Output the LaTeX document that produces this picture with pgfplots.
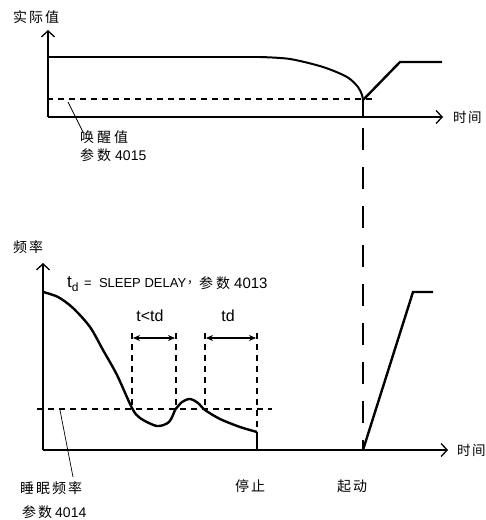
\documentclass[border=0pt]{standalone}
\usepackage{pgfplots}
\pgfplotsset{compat=1.18}
\usepackage{fontspec}
\setmainfont{Liberation Sans}
\newfontfamily\cjk[LetterSpace=14]{Noto Sans CJK SC}
\newfontfamily\cjkn{Noto Sans CJK SC}
\usetikzlibrary{arrows.meta}
\pgfplotsset{
  diag/.style={
    x=1pt, y=1pt, anchor=south west, clip=false,
    axis lines=left, xtick=\empty, ytick=\empty,
    axis line style={line width=1.6pt},
    x axis line style={-{Straight Barb[length=6pt,width=13pt,line width=1.3pt]}},
    y axis line style={-{Straight Barb[length=6pt,width=13pt,line width=1.3pt]}},
  },
  thickc/.style={black, line width=2.4pt, no marks},
  dsh/.style={black, line width=1.4pt, no marks, dash pattern=on 6pt off 5pt},
  thin/.style={black, line width=0.7pt, no marks},
}
\newcommand\cs{\fontsize{14}{14}\selectfont\cjk}
\newcommand\csn{\fontsize{13.5}{13.5}\selectfont\cjkn}
\newcommand\ls{\fontsize{14}{14}\selectfont\rmfamily}
\begin{document}
\begin{tikzpicture}[x=1pt,y=1pt]
\useasboundingbox (0,0) rectangle (486,520);
% ---------------- top axis: actual value ----------------
\begin{axis}[diag, at={(48pt,403pt)}, xmin=48, xmax=443, ymin=403, ymax=490]
\addplot[thickc, line width=2.6pt] coordinates {(48,463) (261,463)};
\addplot[thickc, line width=2pt, smooth] coordinates {(260,463) (290,461) (323,453) (347,443) (358,433) (362,425) (363,420)};
\addplot[thickc, sharp plot] coordinates {(363,420) (400,458) (442,458)};
\addplot[dsh] coordinates {(47,421) (373,421)};
\addplot[thin] coordinates {(68,418) (83,388)};
\node[anchor=west, inner sep=0pt] at (axis cs:13,503) {\cs 实际值};
\node[anchor=west, inner sep=0pt] at (axis cs:453,403) {\csn 时\hspace{1.5pt}间};
\node[anchor=west, inner sep=0pt] at (axis cs:80,383) {\cs 唤\hspace{3pt}醒\hspace{3pt}值};
\node[anchor=west, inner sep=0pt] at (axis cs:80,365) {\cs 参\hspace{3pt}数\hspace{4pt}\ls 4015};
\end{axis}
% ---------------- bottom axis: frequency ----------------
\begin{axis}[diag, at={(43pt,70pt)}, xmin=43, xmax=448, ymin=70, ymax=257]
\addplot[thickc, smooth] coordinates {(43,228) (58,223) (73,212) (90,193) (103,170) (117,145) (132,112) (140,102) (157,94) (169,98) (175,110)};
\addplot[thickc, smooth] coordinates {(175,110) (182,118) (190,121) (198,117) (205,110) (220,101) (240,93) (257,88)};
\addplot[thickc, line width=2.6pt, sharp plot] coordinates {(257,88) (257,70) (363,70)};
\addplot[thickc, sharp plot] coordinates {(363,70) (413,228) (433,228)};
% sleep level
\addplot[dsh] coordinates {(37,111) (272,111)};
% delay markers
\addplot[dsh] coordinates {(132,187) (132,111)};
\addplot[dsh] coordinates {(176,187) (176,111)};
\addplot[dsh] coordinates {(205,187) (205,111)};
\addplot[dsh] coordinates {(257,187) (257,88)};
\addplot[black, line width=1.6pt, no marks, {Stealth[length=7pt,width=6pt]}-{Stealth[length=7pt,width=6pt]}] coordinates {(133,182) (175,182)};
\addplot[black, line width=1.6pt, no marks, {Stealth[length=7pt,width=6pt]}-{Stealth[length=7pt,width=6pt]}] coordinates {(206,182) (256,182)};
% long dashed link
\addplot[black, line width=1.8pt, no marks] coordinates {(363,420) (363,403)};
\addplot[black, line width=1.8pt, no marks, dash pattern=on 22pt off 17pt] coordinates {(363,392) (363,70)};
% leader
\addplot[thin] coordinates {(60,110) (73,43)};
% texts
\node[anchor=west, inner sep=0pt] at (axis cs:13,273) {\cs 频率};
\node[anchor=west, inner sep=0pt] at (axis cs:457,70) {\csn 时\hspace{1.5pt}间};
\node[anchor=west, inner sep=0pt] at (axis cs:67,236) {\fontsize{17}{17}\selectfont t\raisebox{-0.4ex}{\fontsize{12}{12}\selectfont d}};
\node[anchor=west, inner sep=0pt] at (axis cs:84,237) {\fontsize{13}{13}\selectfont = \ SLEEP DELAY};
\node[anchor=west, inner sep=0pt] at (axis cs:187,237) {\fontsize{12}{12}\selectfont\cjkn ，};
\node[anchor=west, inner sep=0pt] at (axis cs:199,237) {\cs 参\hspace{3pt}数};
\node[anchor=west, inner sep=0pt] at (axis cs:234,237) {\fontsize{15}{15}\selectfont 4013};
\node[font=\fontsize{16}{16}\selectfont] at (axis cs:150,204) {t<td};
\node[font=\fontsize{16}{16}\selectfont] at (axis cs:228,204) {td};
\node[anchor=west, inner sep=0pt] at (axis cs:20,32) {\cs 睡眠频率};
\node[anchor=west, inner sep=0pt] at (axis cs:22,8) {\cs 参\hspace{2pt}数\hspace{3pt}\ls 4014};
\node[anchor=west, inner sep=0pt] at (axis cs:235,34) {\cs 停止};
\node[anchor=west, inner sep=0pt] at (axis cs:337,34) {\cs 起动};
\end{axis}
\end{tikzpicture}
\end{document}
